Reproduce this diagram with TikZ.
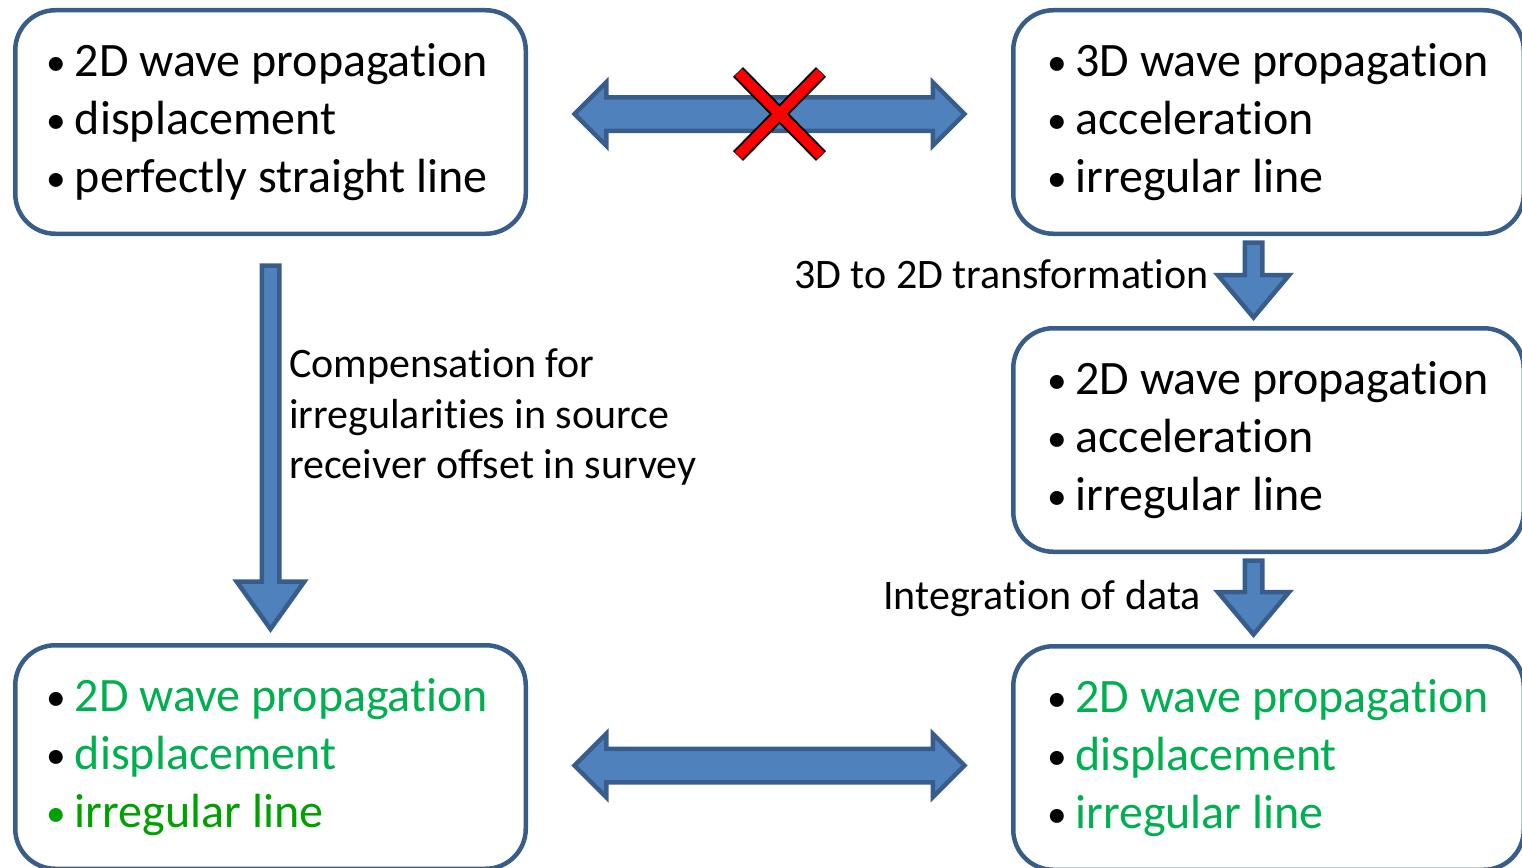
\documentclass[tikz,border=0pt]{standalone}
\usepackage{fontspec}
\setmainfont{Carlito}[Ligatures=NoCommon]
\usepackage{graphicx}
\usepackage{xcolor}
\usetikzlibrary{positioning,calc,shapes.arrows}

\definecolor{boxblue}{HTML}{385D8A}
\definecolor{arrowfill}{HTML}{4F81BD}
\definecolor{itemgreen}{HTML}{00B050}
\definecolor{darkgreen}{HTML}{00A000}

\newcommand{\bul}[1]{\makebox[27pt][l]{\hspace{-1pt}\raisebox{1pt}{\scalebox{0.82}{\textbullet}}}#1}

\tikzset{
  infobox/.style={draw=boxblue, line width=4.5pt, fill=white, rounded corners=40pt,
    minimum width=510.5pt, minimum height=223.5pt, align=left, inner sep=0pt,
    font=\fontsize{48}{58}\selectfont},
  blockdown/.style={single arrow, draw=boxblue, fill=arrowfill, line width=4.5pt,
    inner xsep=0pt, inner ysep=6.5pt, outer sep=0pt, rotate=-90, anchor=tail},
  blockboth/.style={double arrow, draw=boxblue, fill=arrowfill, line width=4.5pt,
    inner xsep=0pt, inner ysep=14.5pt, outer sep=0pt, double arrow head extend=15pt,
    double arrow tip angle=90, minimum height=390pt},
  steplabel/.style={inner sep=0pt, font=\fontsize{42}{50.7}\selectfont},
}

\begin{document}
\begin{tikzpicture}[x=1pt, y=-1pt]
    \useasboundingbox (0,0) rectangle (1522,867);
    \clip (0,0) rectangle (1522,867);

    % boxes
    \node[infobox] (tl) at (270.5,122) {\bul{2D wave propagation}\hspace*{5pt}\\ \bul{displacement}\\ \bul{perfectly straight line}};
    \node[infobox, right=483pt of tl] (tr) {\bul{3D wave propagation}\\ \bul{acceleration}\\ \bul{irregular line}};
    \node[infobox, below=90pt of tr] (mr) {\bul{2D wave propagation}\\ \bul{acceleration}\\ \bul{irregular line}};
    \node[infobox, below=407pt of tl] (bl) {\bul{\textcolor{itemgreen}{2D wave propagation}}\hspace*{5pt}\\ \bul{\textcolor{itemgreen}{displacement}}\\ \textcolor{darkgreen}{\bul{irregular line}}};
    \node[infobox, below=90pt of mr] (br) {\bul{\textcolor{itemgreen}{2D wave propagation}}\\ \bul{\textcolor{itemgreen}{displacement}}\\ \bul{\textcolor{itemgreen}{irregular line}}};

    % block arrows
    \node[blockboth] (toparrow) at ($(tl.east)!0.5!(tr.west)+(0,-8)$) {};
    \node[blockboth] (botarrow) at ($(bl.east)!0.5!(br.west)+(0,8)$) {};
    \node[blockdown, minimum height=363.5pt, single arrow head extend=25pt,
        single arrow tip angle=71] (leftarrow) at ($(tl.south)+(0,29.5)$) {};
    \node[blockdown, minimum height=75pt, single arrow head extend=26.75pt,
        single arrow tip angle=80] (transarrow) at ($(tr.south)+(-15,6.5)$) {};
    \node[blockdown, minimum height=74pt, single arrow head extend=26.75pt,
        single arrow tip angle=80] (intarrow) at ($(mr.south)+(-15,6.5)$) {};

    % red cross on the top arrow
    \draw[black, line width=14pt] (738,72) -- (821,156) (738,156) -- (821,72);
    \draw[red, line width=10pt] (738.5,72.5) -- (820.5,155.5) (738.5,155.5) -- (820.5,72.5);

    % labels
    \node[steplabel, anchor=base east] (translabel) at (1209,288) {3D to 2D transformation};
    \node[steplabel, anchor=base east] (intlabel) at (1201,609) {Integration of data};
    \node[steplabel, anchor=west, align=left] (complabel) at (289,417)
        {Compensation for\\ irregularities in source\\ receiver offset in survey};
\end{tikzpicture}
\end{document}
